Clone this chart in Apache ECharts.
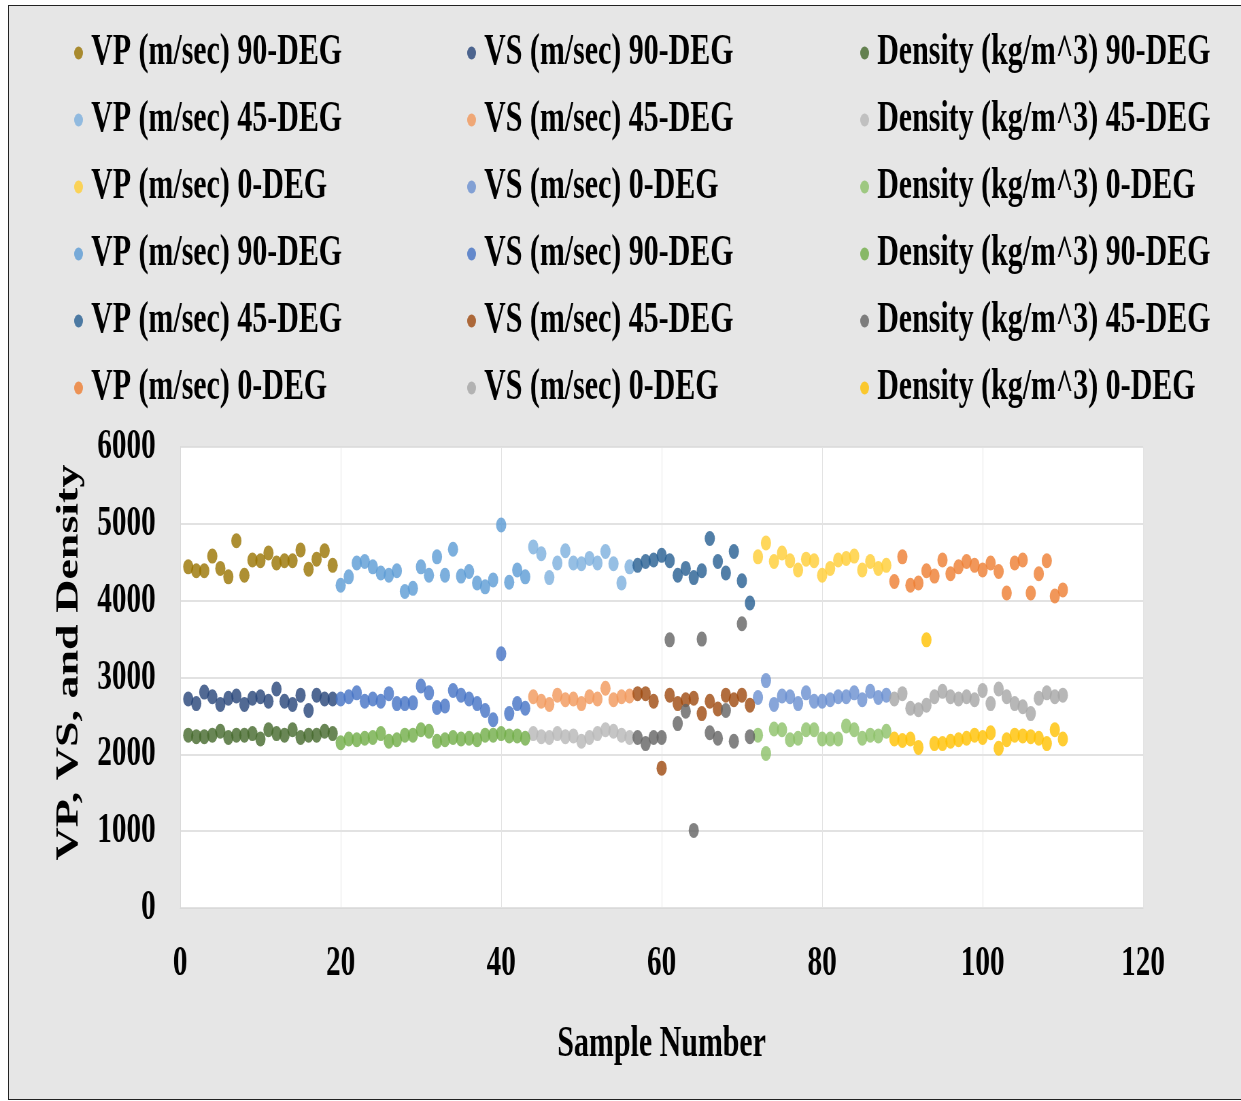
<!DOCTYPE html>
<html>
<head>
<meta charset="utf-8">
<script src="https://cdn.jsdelivr.net/npm/echarts@6/dist/echarts.min.js"></script>
<style>
html,body{margin:0;padding:0;background:#fff;overflow:hidden;width:1241px;height:1101px;}
#frame{position:absolute;left:8px;top:5px;width:1240px;height:1093px;background:#e6e6e6;border-left:1px solid #222;border-top:1px solid #222;border-bottom:1px solid #222;}
#chart{position:absolute;left:0;top:0;width:1825px;height:1101px;transform:scaleX(0.68);transform-origin:0 0;}
</style>
</head>
<body>
<div id="frame"></div>
<div id="chart"></div>
<script>
// Sample-number start of each group
const startA = 1, startB = 20, startC = 44, startD = 57, startE = 72, startF = 89;

// Group A (90-DEG, set 1)
const vp90a = [4440,4390,4390,4580,4420,4310,4780,4330,4530,4520,4620,4490,4520,4520,4660,4410,4540,4650,4460];
const vs90a = [2720,2660,2810,2750,2650,2730,2760,2650,2730,2750,2690,2850,2690,2650,2770,2570,2770,2720,2720];
const den90a = [2250,2230,2230,2250,2300,2220,2250,2250,2270,2200,2320,2270,2250,2320,2220,2250,2250,2300,2270];
// Group B (90-DEG, set 2)
const vp90b = [4200,4310,4490,4510,4440,4360,4330,4390,4120,4160,4440,4330,4570,4330,4670,4320,4380,4230,4180,4270,4985,4240,4400,4310];
const vs90b = [2720,2750,2800,2690,2720,2690,2790,2660,2660,2670,2890,2800,2610,2630,2830,2770,2720,2660,2570,2450,3310,2530,2660,2600];
const den90b = [2150,2200,2190,2210,2220,2270,2170,2190,2250,2250,2320,2300,2170,2190,2220,2200,2210,2190,2250,2250,2270,2240,2240,2210];
// Group C (45-DEG, set 1)
const vp45a = [4700,4610,4300,4490,4650,4490,4480,4550,4490,4640,4480,4230,4440];
const vs45a = [2750,2690,2650,2770,2710,2720,2660,2750,2720,2860,2710,2750,2760];
const den45a = [2270,2230,2220,2270,2230,2240,2170,2220,2270,2320,2300,2250,2220];
// Group D (45-DEG, set 2)
const vp45b = [4460,4510,4530,4590,4520,4330,4420,4300,4390,4810,4510,4360,4640,4260,3970];
const vs45b = [2790,2790,2690,1820,2770,2660,2710,2730,2530,2690,2590,2770,2710,2770,2640];
const den45b = [2220,2140,2220,2220,3490,2400,2560,1010,3500,2280,2210,2570,2170,3700,2230];
// Group E (0-DEG, set 1)
const vp0a = [4570,4750,4510,4620,4520,4400,4540,4520,4330,4420,4530,4550,4580,4400,4510,4420,4460];
const vs0a = [2740,2960,2650,2760,2750,2660,2800,2690,2690,2710,2750,2750,2800,2710,2820,2740,2770];
const den0a = [2250,2010,2330,2320,2190,2210,2320,2320,2200,2200,2200,2370,2320,2210,2250,2240,2300];
// Group F (0-DEG, set 2)
const vp0b = [4250,4570,4200,4230,4390,4320,4530,4350,4440,4510,4460,4400,4490,4380,4100,4490,4530,4100,4350,4520,4060,4140];
const vs0b = [2720,2790,2600,2580,2640,2750,2820,2750,2720,2750,2710,2830,2660,2850,2750,2660,2620,2530,2730,2800,2750,2770];
const den0b = [2200,2180,2200,2090,3490,2140,2140,2170,2190,2210,2250,2220,2280,2080,2190,2250,2240,2230,2210,2140,2320,2200];

const xTicks = [0,20,40,60,80,100,120];
const yTicks = [0,1000,2000,3000,4000,5000,6000];

const FONT = 'Liberation Serif';

function pts(start, arr){ return arr.map((v,i)=>[start+i, v]); }

const seriesDefs = [
  ['VP (m/sec) 90-DEG', '#997300', startA, vp90a],
  ['VS (m/sec) 90-DEG', '#264478', startA, vs90a],
  ['Density (kg/m^3) 90-DEG', '#43682B', startA, den90a],
  ['VP (m/sec) 45-DEG', '#7CAFDD', startC, vp45a],
  ['VS (m/sec) 45-DEG', '#F1975A', startC, vs45a],
  ['Density (kg/m^3) 45-DEG', '#B7B7B7', startC, den45a],
  ['VP (m/sec) 0-DEG', '#FFCD33', startE, vp0a],
  ['VS (m/sec) 0-DEG', '#698ED0', startE, vs0a],
  ['Density (kg/m^3) 0-DEG', '#8CC168', startE, den0a],
  ['VP (m/sec) 90-DEG#2', '#5B9BD5', startB, vp90b],
  ['VS (m/sec) 90-DEG#2', '#4472C4', startB, vs90b],
  ['Density (kg/m^3) 90-DEG#2', '#70AD47', startB, den90b],
  ['VP (m/sec) 45-DEG#2', '#255E91', startD, vp45b],
  ['VS (m/sec) 45-DEG#2', '#9E480E', startD, vs45b],
  ['Density (kg/m^3) 45-DEG#2', '#636363', startD, den45b],
  ['VP (m/sec) 0-DEG#2', '#ED7D31', startF, vp0b],
  ['VS (m/sec) 0-DEG#2', '#A5A5A5', startF, vs0b],
  ['Density (kg/m^3) 0-DEG#2', '#FFC000', startF, den0b]
];

const series = seriesDefs.map(d => ({
  name: d[0], type: 'scatter', data: pts(d[2], d[3]),
  symbol: 'circle', symbolSize: 15,
  itemStyle: { color: d[1] }, animation: false
}));

function col(prefix){
  return seriesDefs.filter(d => d[0].startsWith(prefix)).map(d => d[0]);
}
const colLefts = [104, 682, 1260];
const legends = ['VP', 'VS', 'Density'].map((p, i) => ({
  data: col(p),
  orient: 'vertical',
  left: colLefts[i], top: 26,
  itemWidth: 13, itemHeight: 13, itemGap: 23,
  icon: 'circle',
  selectedMode: false,
  formatter: n => n.replace('#2', ''),
  textStyle: { fontFamily: FONT, fontWeight: 'bold', fontSize: 44, lineHeight: 44, color: '#000', padding: [0,0,0,7] }
}));

const chart = echarts.init(document.getElementById('chart'), null, {renderer: 'canvas'});
chart.setOption({
  backgroundColor: 'transparent',
  animation: false,
  legend: legends,
  grid: { left: 265, right: 144, top: 447, bottom: 193, show: true, backgroundColor: '#fff', borderWidth: 0 },
  xAxis: {
    type: 'value', min: xTicks[0], max: xTicks[xTicks.length-1], interval: 20,
    name: 'Sample Number', nameLocation: 'middle', nameGap: 115,
    nameTextStyle: { fontFamily: FONT, fontWeight: 'bold', fontSize: 44, color: '#000' },
    axisLine: { show: true, lineStyle: { color: '#d9d9d9' } },
    axisTick: { show: false },
    splitLine: { show: true, lineStyle: { color: '#e3e3e3', width: 1 } },
    axisLabel: { fontFamily: FONT, fontWeight: 'bold', fontSize: 43, color: '#000', margin: 34 }
  },
  yAxis: {
    type: 'value', min: yTicks[0], max: yTicks[yTicks.length-1], interval: 1000,
    name: 'VP, VS, and Density', nameLocation: 'middle', nameGap: 140, nameRotate: 90,
    nameTextStyle: { fontFamily: FONT, fontWeight: 'bold', fontSize: 46, color: '#000', padding: [0,0,0,30] },
    axisLine: { show: true, lineStyle: { color: '#d9d9d9' } },
    axisTick: { show: false },
    splitLine: { show: true, lineStyle: { color: '#d9d9d9', width: 1.5 } },
    axisLabel: { fontFamily: FONT, fontWeight: 'bold', fontSize: 43, color: '#000', margin: 36, formatter: v => String(v) }
  },
  series: series
});
</script>
</body>
</html>
